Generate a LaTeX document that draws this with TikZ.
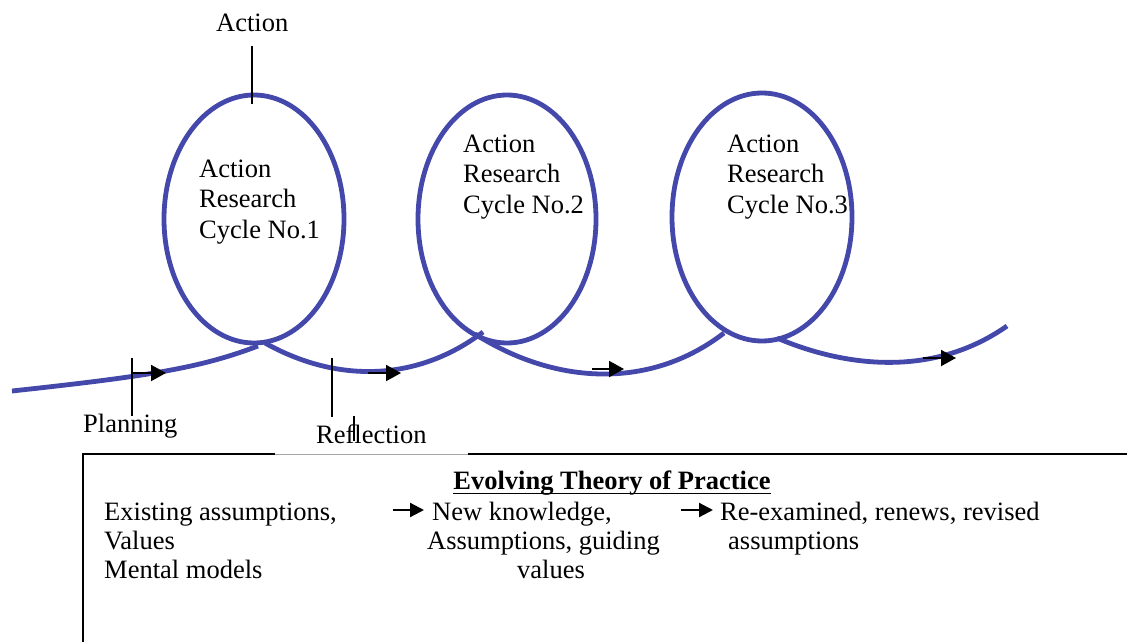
\documentclass[tikz,border=0pt]{standalone}
\usepackage{fontspec}
\setmainfont{Liberation Serif}
\usetikzlibrary{arrows.meta}
\definecolor{loopblue}{RGB}{68,72,170}
\begin{document}
\begin{tikzpicture}[x=1pt,y=-1pt,
  txt/.style={anchor=base west,inner sep=0pt,font=\fontsize{26.5}{30.5}\selectfont,align=left},
  loop/.style={draw=loopblue,line width=4.8pt},
  wave/.style={draw=loopblue,line width=4.8pt,line cap=butt},
  tick/.style={draw=black,line width=1.4pt},
  flowarrow/.style={draw=black,line width=2pt,-{Triangle[length=15pt,width=16pt]}},
  boxarrow/.style={draw=black,line width=2.2pt,-{Triangle[length=14pt,width=14pt]}},
  frame/.style={draw=black,line width=1.8pt},
  ]
\useasboundingbox (0,0) rectangle (1127,642);

% loops
\draw[loop] (254,219) ellipse [x radius=90, y radius=124];
\draw[loop] (507,219) ellipse [x radius=89, y radius=124];
\draw[loop] (762,217) ellipse [x radius=90, y radius=124];

% wave
\coordinate (w0) at (12,391);
\coordinate (w1) at (258,346);
\coordinate (w2) at (265,343);
\coordinate (w3) at (483,332);
\coordinate (w4) at (475,334);
\coordinate (w5) at (724,333);
\coordinate (w6) at (777,338);
\coordinate (w7) at (1007,326);
\draw[wave] (w0) .. controls (150,376) and (200,368) .. (w1);
\draw[wave] (w2) .. controls (340,385) and (420,380) .. (w3);
\draw[wave] (w4) .. controls (555,385) and (650,390) .. (w5);
\draw[wave] (w6) .. controls (840,365) and (930,380) .. (w7);

% flow arrows
\coordinate (a1s) at (133,373); \coordinate (a1e) at (166,373);
\coordinate (a2s) at (368,373); \coordinate (a2e) at (401,373);
\coordinate (a3s) at (592,369); \coordinate (a3e) at (624,369);
\coordinate (a4s) at (923,358); \coordinate (a4e) at (956,358);
\draw[flowarrow] (a1s) -- (a1e);
\draw[flowarrow] (a2s) -- (a2e);
\draw[flowarrow] (a3s) -- (a3e);
\draw[flowarrow] (a4s) -- (a4e);

% labels and ticks
\node[txt] (action) at (216,32) {Action};
\coordinate (t1a) at (252,46); \coordinate (t1b) at (252,104);
\draw[tick] (t1a) -- (t1b);

\node[txt] (plan) at (83,432) {Planning};
\coordinate (t2a) at (132,358); \coordinate (t2b) at (132,416);
\draw[tick] (t2a) -- (t2b);

\node[txt] (refl) at (316,443) {Reflection};
\coordinate (t3a) at (332,358); \coordinate (t3b) at (332,417);
\draw[tick] (t3a) -- (t3b);
\coordinate (t4a) at (354,416); \coordinate (t4b) at (354,441);
\draw[tick] (t4a) -- (t4b);

% cycle texts (base anchor = last line baseline)
\node[txt] (c1) at (199,238) {Action\\Research\\Cycle No.1};
\node[txt] (c2) at (463,213) {Action\\Research\\Cycle No.2};
\node[txt] (c3) at (727,213) {Action\\Research\\Cycle No.3};

% box
\coordinate (bl) at (83,642);
\coordinate (tl) at (83,454);
\coordinate (g1) at (275,454);
\coordinate (g2) at (468,454);
\coordinate (tr) at (1127,454);
\draw[frame] (bl) -- (tl) -- (g1);
\draw[draw=gray!70,line width=1pt] (g1) -- (g2);
\draw[frame] (g2) -- (tr);

\node[txt,anchor=base,font=\fontsize{26.5}{30.5}\selectfont\bfseries] (title) at (612,489) {Evolving Theory of Practice};
\draw[draw=black,line width=1.8pt] ([yshift=-4.5pt]title.base west) -- ([yshift=-4.5pt]title.base east);

\node[txt] (e1) at (104,520) {Existing assumptions,};
\node[txt] (e2) at (104,549) {Values};
\node[txt] (e3) at (104,578) {Mental models};

\coordinate (b1s) at (393,510); \coordinate (b1e) at (424,510);
\draw[boxarrow] (b1s) -- (b1e);
\node[txt] (n1) at (432,520) {New knowledge,};
\node[txt] (n2) at (427,549) {Assumptions, guiding};
\node[txt] (n3) at (517,578) {values};

\coordinate (b2s) at (681,510); \coordinate (b2e) at (713,510);
\draw[boxarrow] (b2s) -- (b2e);
\node[txt] (r1) at (720,520) {Re-examined, renews, revised};
\node[txt] (r2) at (728,549) {assumptions};
\end{tikzpicture}
\end{document}
